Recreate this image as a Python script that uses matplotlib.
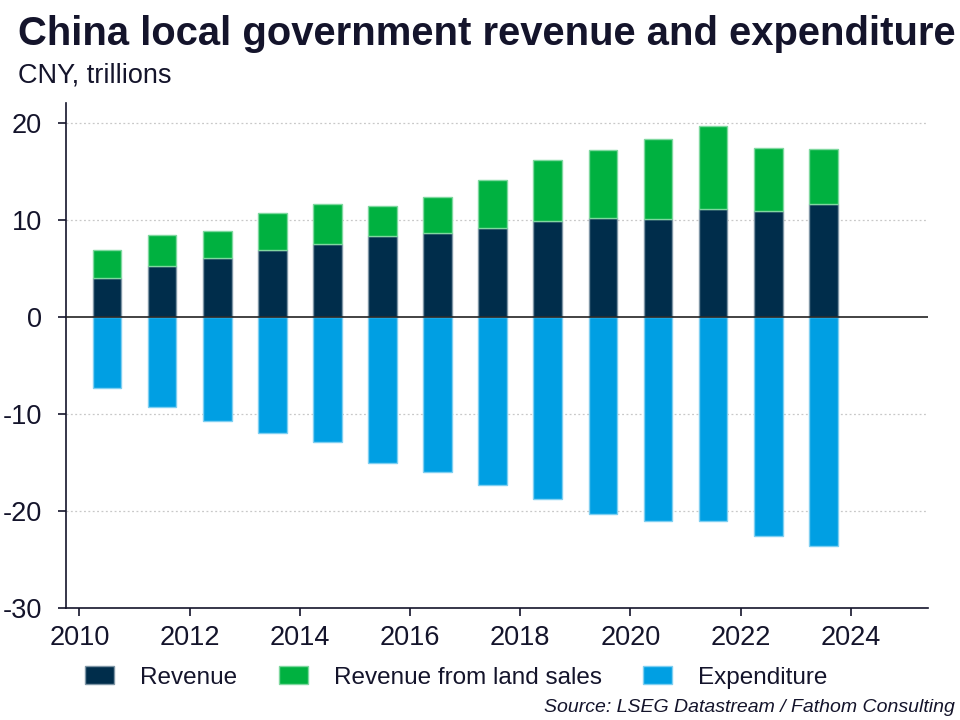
import matplotlib
matplotlib.use("Agg")
import matplotlib.pyplot as plt
from matplotlib.patches import Patch

plt.rcParams['font.family'] = ['Liberation Sans', 'DejaVu Sans']
plt.rcParams['axes.unicode_minus'] = False

# data, CNY trillions
years = [2010, 2011, 2012, 2013, 2014, 2015, 2016, 2017, 2018, 2019, 2020, 2021, 2022, 2023]
revenue = [4.08, 5.3, 6.14, 6.97, 7.6, 8.35, 8.72, 9.18, 9.9, 10.2, 10.1, 11.13, 10.93, 11.7]
land_sales = [2.82, 3.15, 2.73, 3.83, 4.05, 3.09, 3.65, 5.0, 6.3, 7.0, 8.25, 8.55, 6.57, 5.7]
expenditure = [-7.29, -9.28, -10.7, -11.9, -12.85, -15.0, -15.95, -17.3, -18.7, -20.3, -21.0, -21.0, -22.5, -23.6]
x_ticks = [2010, 2012, 2014, 2016, 2018, 2020, 2022, 2024]
y_ticks = [-30, -20, -10, 0, 10, 20]

navy = '#002D4B'
green = '#00B140'
blue = '#009FE3'
txt = '#14142B'

fig = plt.figure(figsize=(9.6, 7.2), dpi=100)
ax = fig.add_axes([0.0684, 0.155, 0.8983, 0.702])

xs = [y + 0.5 for y in years]
w = 0.52
ax.bar(xs, revenue, width=w, color=navy, edgecolor='#7F96A6', linewidth=1, zorder=3)
ax.bar(xs, land_sales, bottom=revenue, width=w, color=green, edgecolor='#7FD89F', linewidth=1, zorder=3)
ax.bar(xs, expenditure, width=w, color=blue, edgecolor='#7FCFF1', linewidth=1, zorder=3)

ax.axhline(0, color='#222222', linewidth=1.2, zorder=4)
for v in [-20, -10, 10, 20]:
    ax.axhline(v, color='#C8C8C8', linewidth=0.9, linestyle=(0, (1.5, 2)), zorder=1)

ax.set_xlim(2009.75, 2025.4)
ax.set_ylim(-30, 22.1)
ax.set_xticks(x_ticks)
ax.set_yticks(y_ticks)
ax.tick_params(axis='both', direction='out', length=6, width=1.2, color=txt, labelsize=19.5, labelcolor=txt)
ax.tick_params(axis='y', pad=11)
ax.tick_params(axis='x', pad=6)
for s in ['top', 'right']:
    ax.spines[s].set_visible(False)
for s in ['left', 'bottom']:
    ax.spines[s].set_color(txt)
    ax.spines[s].set_linewidth(1.2)

fig.text(0.019, 0.937, 'China local government revenue and expenditure', fontsize=28.8, fontweight='bold',
         color=txt, ha='left', va='baseline')
fig.text(0.019, 0.885, 'CNY, trillions', fontsize=19.5, color=txt, ha='left', va='baseline')

handles = [Patch(facecolor=navy, edgecolor='#7F96A6'), Patch(facecolor=green, edgecolor='#7FD89F'),
           Patch(facecolor=blue, edgecolor='#7FCFF1')]
fig.legend(handles, ['Revenue', 'Revenue from land sales', 'Expenditure'], loc='center',
           bbox_to_anchor=(0.4755, 0.059), ncol=3, frameon=False, fontsize=17.5, handlelength=1.2,
           handleheight=0.74, handletextpad=1.07, columnspacing=1.7, labelcolor=txt)

fig.text(0.995, 0.018, 'Source: LSEG Datastream / Fathom Consulting', fontsize=14, style='italic',
         color=txt, ha='right', va='center')

fig.savefig('out.png', dpi=100)
